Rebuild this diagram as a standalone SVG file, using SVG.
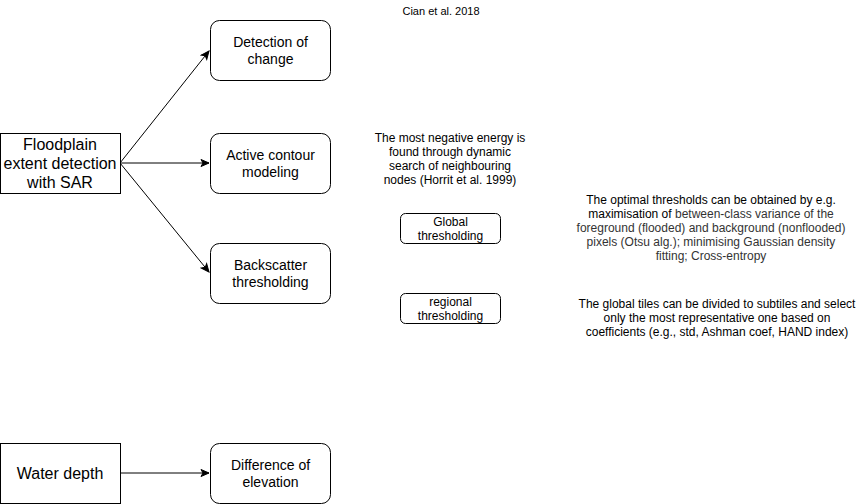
<svg xmlns="http://www.w3.org/2000/svg" width="861" height="504" viewBox="0 0 861 504">
<style>
text{font-family:"Liberation Sans",Arial,Helvetica,sans-serif;fill:#000;text-anchor:middle}
.box{fill:#fff;stroke:#000;stroke-width:1}
.t14{font-size:14px}
.t16{font-size:16px}
.t11{font-size:11px}
.t12{font-size:12px}
.gray{fill:#333}
.edge{stroke:#000;stroke-width:1;fill:none;marker-end:url(#arr)}
</style>
<defs>
<marker id="arr" viewBox="0 0 10 10" refX="9" refY="5" markerWidth="10" markerHeight="10" markerUnits="userSpaceOnUse" orient="auto">
<path d="M1,1.5 L9,5 L1,8.5 L3,5 Z" fill="#000" stroke="#000" stroke-width="1"/>
</marker>
</defs>
<rect width="861" height="504" fill="#fff"/>
<g id="connectors">
<path class="edge" d="M120,163 L209,51"/>
<path class="edge" d="M120,163 L209,163"/>
<path class="edge" d="M120,163 L209,272"/>
<path class="edge" d="M120,473 L209,473"/>
</g>
<g id="floodplain">
<rect class="box" x="0.5" y="133.5" width="120" height="60"/>
<text class="t16" x="60" y="150">Floodplain</text>
<text class="t16" x="60" y="169">extent detection</text>
<text class="t16" x="60" y="188">with SAR</text>
</g>
<g id="detection">
<rect class="box" x="210.5" y="20.5" width="120" height="60" rx="9"/>
<text class="t14" x="270.5" y="47">Detection of</text>
<text class="t14" x="270.5" y="64">change</text>
</g>
<g id="active">
<rect class="box" x="210.5" y="133.5" width="120" height="60" rx="9"/>
<text class="t14" x="270.5" y="160">Active contour</text>
<text class="t14" x="270.5" y="177">modeling</text>
</g>
<g id="backscatter">
<rect class="box" x="210.5" y="243.5" width="120" height="60" rx="9"/>
<text class="t14" x="270.5" y="270">Backscatter</text>
<text class="t14" x="270.5" y="287">thresholding</text>
</g>
<g id="waterdepth">
<rect class="box" x="0.5" y="443.5" width="120" height="60"/>
<text class="t16" x="60" y="479">Water depth</text>
</g>
<g id="difference">
<rect class="box" x="210.5" y="443.5" width="120" height="60" rx="9"/>
<text class="t14" x="270.5" y="470">Difference of</text>
<text class="t14" x="270.5" y="487">elevation</text>
</g>
<g id="global">
<rect class="box" x="400.5" y="213.5" width="100" height="30" rx="5"/>
<text class="t12" x="450.5" y="226">Global</text>
<text class="t12" x="450.5" y="240">thresholding</text>
</g>
<g id="regional">
<rect class="box" x="400.5" y="293.5" width="100" height="30" rx="5"/>
<text class="t12" x="450.5" y="306">regional</text>
<text class="t12" x="450.5" y="320">thresholding</text>
</g>
<g id="cian">
<text class="t11" x="441" y="15">Cian et al. 2018</text>
</g>
<g id="energy-note">
<text class="t12" x="450" y="142">The most negative energy is</text>
<text class="t12" x="450" y="156">found through dynamic</text>
<text class="t12" x="450" y="170">search of neighbouring</text>
<text class="t12" x="450" y="184">nodes (Horrit et al. 1999)</text>
</g>
<g id="optimal-note">
<text class="t12" x="711" y="204">The optimal thresholds can be obtained by e.g.</text>
<text class="t12" x="711" y="218">maximisation of <tspan class="gray">between-class variance of the</tspan></text>
<text class="t12 gray" x="711" y="232">foreground (flooded) and background (nonflooded)</text>
<text class="t12 gray" x="711" y="246">pixels (Otsu alg.); minimising Gaussian density</text>
<text class="t12 gray" x="711" y="260">fitting; Cross-entropy</text>
</g>
<g id="global-note">
<text class="t12" x="717" y="308">The global tiles can be divided to subtiles and select</text>
<text class="t12" x="717" y="322">only the most representative one based on</text>
<text class="t12" x="717" y="336">coefficients (e.g., std, Ashman coef, HAND index)</text>
</g>
</svg>
